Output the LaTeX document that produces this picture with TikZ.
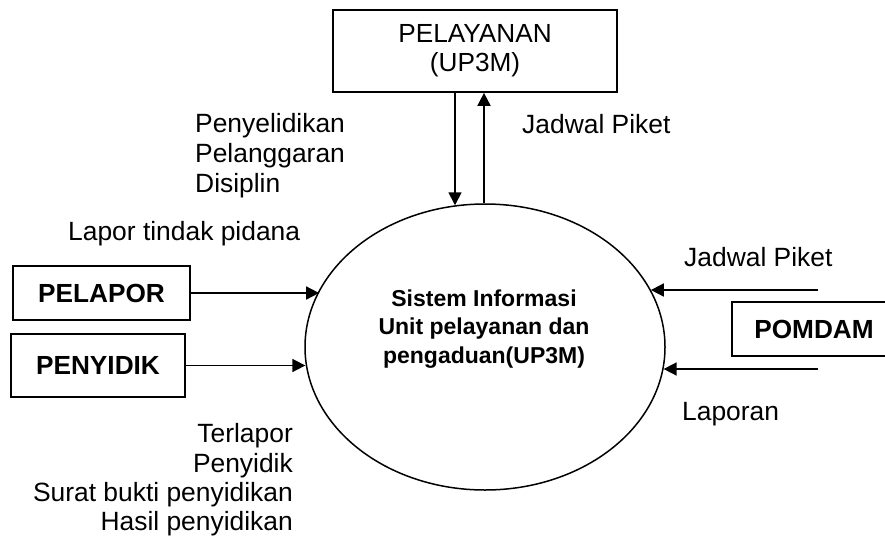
\documentclass[tikz,border=0pt]{standalone}
\usepackage{fontspec}
\setmainfont{Liberation Sans}
\usetikzlibrary{arrows.meta,shapes.geometric}
\begin{document}
\begin{tikzpicture}[x=1pt,y=-1pt,
  lbl/.style={inner sep=0pt,font=\fontsize{26.4}{30}\selectfont},
  ent/.style={draw,line width=1.7pt,inner sep=0pt,font=\bfseries\fontsize{26.2}{30}\selectfont},
  flow/.style={line width=1.7pt,-{Triangle[length=13pt,width=13pt]}}]
\useasboundingbox (0,0) rectangle (885,541);
\clip (0,0) rectangle (885,541);
% entities
\node[ent,minimum width=177pt,minimum height=54pt] (pelapor) at (101.5,293) {PELAPOR};
\node[ent,minimum width=174pt,minimum height=63pt] (penyidik) at (98,365.5) {PENYIDIK};
\node[ent,minimum width=164pt,minimum height=54pt] (pomdam) at (814,329) {POMDAM};
\node[draw,line width=1.7pt,inner sep=0pt,minimum width=284pt,minimum height=82pt,align=center,
      font=\fontsize{26.2}{29}\selectfont] (pel) at (475,51) {PELAYANAN\\(UP3M)};
% process
\node[draw,ellipse,line width=1.5pt,inner sep=0pt,minimum width=360pt,minimum height=286pt] (sys) at (485,347) {};
\node[inner sep=0pt,align=center,font=\bfseries\fontsize{23}{28.5}\selectfont] (syst) at (484,329)
  {Sistem Informasi\\Unit pelayanan dan\\pengaduan(UP3M)};
% flows
\draw[flow] (pelapor.east) -- (pelapor.east -| sys.161.7);
\draw[flow] (penyidik.east) -- (penyidik.east -| sys.185.9);
\coordinate (pj) at (818,290);
\coordinate (pl) at (818,369);
\draw[flow] (pj) -- (pj -| sys.19.1);
\draw[flow] (pl) -- (pl -| sys.353);
\draw[flow] ([xshift=-20pt]pel.south) -- ([xshift=-20pt]pel.south |- sys.102);
\draw[flow] ([xshift=9pt]pel.south |- sys.90) -- ([xshift=9pt]pel.south);
% labels
\node[lbl,anchor=base west] (l1) at (195,132) {Penyelidikan};
\node[lbl,anchor=base west] (l2) at (195,162) {Pelanggaran};
\node[lbl,anchor=base west] (l3) at (195,192) {Disiplin};
\node[lbl,anchor=base west] (jp1) at (522,133) {Jadwal Piket};
\node[lbl,anchor=base west] (lap) at (68,240) {Lapor tindak pidana};
\node[lbl,anchor=base west] (jp2) at (684,266) {Jadwal Piket};
\node[lbl,anchor=base west] (lpr) at (682,420) {Laporan};
\node[lbl,anchor=base east] (b1) at (293,442) {Terlapor};
\node[lbl,anchor=base east] (b2) at (293,472) {Penyidik};
\node[lbl,anchor=base east] (b3) at (293,501) {Surat bukti penyidikan};
\node[lbl,anchor=base east] (b4) at (293,530) {Hasil penyidikan};
\end{tikzpicture}
\end{document}
